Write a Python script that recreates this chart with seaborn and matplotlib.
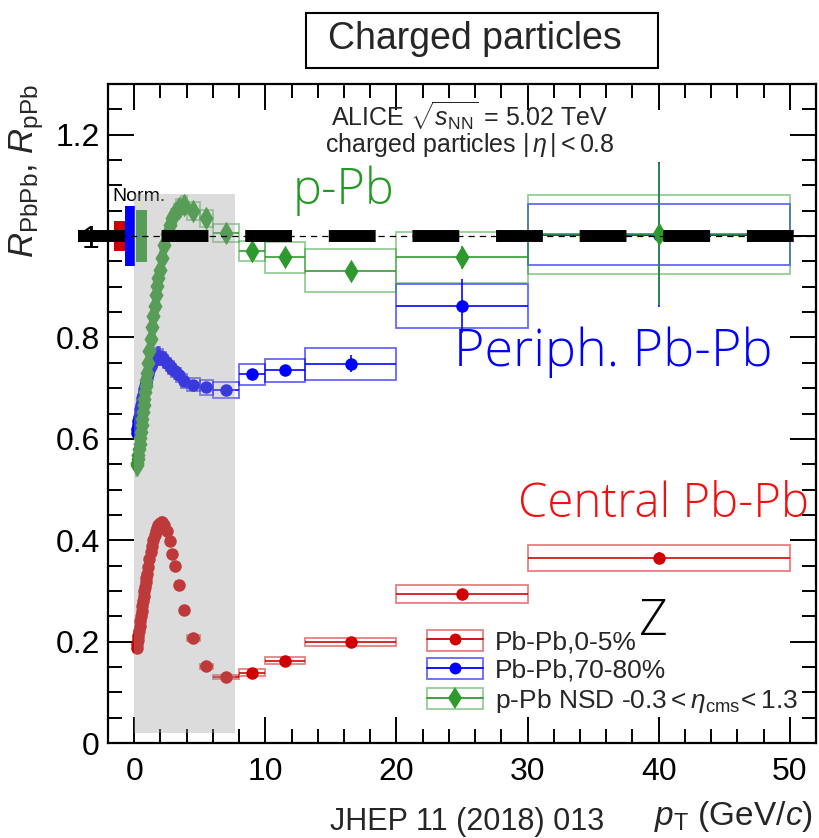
import numpy as np
import pandas as pd
import matplotlib
matplotlib.use("Agg")
import matplotlib.pyplot as plt
import seaborn as sns
from matplotlib import font_manager
from matplotlib.patches import Rectangle
from matplotlib.lines import Line2D
from matplotlib.ticker import MultipleLocator, FuncFormatter
from matplotlib.legend_handler import HandlerTuple

# ---------------- data ----------------
pt_edges = [0.15, 0.20, 0.25, 0.30, 0.35, 0.40, 0.45, 0.50, 0.55, 0.60, 0.65, 0.70, 0.75, 0.80, 0.85, 0.90, 0.95, 1.00,
            1.1, 1.2, 1.3, 1.4, 1.5, 1.6, 1.7, 1.8, 1.9, 2.0,
            2.2, 2.4, 2.6, 2.8, 3.0, 3.2, 3.6, 4.0, 5.0, 6.0, 8.0, 10.0, 13.0, 20.0, 30.0, 50.0]

raa_central = [0.188, 0.196, 0.204, 0.212, 0.221, 0.230, 0.240, 0.250, 0.260, 0.270, 0.280, 0.290, 0.299, 0.308, 0.317, 0.326, 0.334,
               0.347, 0.362, 0.376, 0.389, 0.400, 0.410, 0.418, 0.425, 0.430, 0.434,
               0.436, 0.430, 0.418, 0.398, 0.372,
               0.350, 0.312, 0.262, 0.207, 0.151, 0.131, 0.139, 0.162, 0.200, 0.294, 0.365]
sys_central = [0.006, 0.006, 0.006, 0.006, 0.006, 0.006, 0.006, 0.006, 0.006, 0.006, 0.006, 0.006, 0.006, 0.006, 0.006, 0.006, 0.006,
               0.008, 0.008, 0.008, 0.008, 0.008, 0.008, 0.008, 0.008, 0.008, 0.008,
               0.009, 0.009, 0.009, 0.009, 0.009,
               0.008, 0.008, 0.007, 0.006, 0.005, 0.004, 0.006, 0.007, 0.008, 0.017, 0.026]
stat_central = [0.0, 0.0, 0.0, 0.0, 0.0, 0.0, 0.0, 0.0, 0.0, 0.0, 0.0, 0.0, 0.0, 0.0, 0.0, 0.0, 0.0,
                0.0, 0.0, 0.0, 0.0, 0.0, 0.0, 0.0, 0.0, 0.0, 0.0,
                0.0, 0.0, 0.0, 0.0, 0.0,
                0.0, 0.0, 0.001, 0.001, 0.001, 0.001, 0.002, 0.003, 0.004, 0.008, 0.012]

raa_periph = [0.611, 0.619, 0.627, 0.635, 0.643, 0.651, 0.659, 0.666, 0.673, 0.680, 0.687, 0.693, 0.699, 0.705, 0.710, 0.715, 0.720,
              0.728, 0.736, 0.743, 0.749, 0.754, 0.758, 0.761, 0.763, 0.764, 0.763,
              0.761, 0.756, 0.750, 0.744, 0.738,
              0.733, 0.726, 0.714, 0.707, 0.702, 0.697, 0.727, 0.735, 0.748, 0.862, 1.003]
sys_periph = [0.020, 0.020, 0.020, 0.020, 0.020, 0.020, 0.020, 0.020, 0.020, 0.020, 0.020, 0.020, 0.020, 0.020, 0.020, 0.020, 0.020,
              0.018, 0.018, 0.018, 0.018, 0.018, 0.018, 0.018, 0.018, 0.018, 0.018,
              0.016, 0.016, 0.016, 0.016, 0.016,
              0.015, 0.014, 0.014, 0.013, 0.015, 0.016, 0.020, 0.022, 0.031, 0.044, 0.060]
stat_periph = [0.0, 0.0, 0.0, 0.0, 0.0, 0.0, 0.0, 0.0, 0.0, 0.0, 0.0, 0.0, 0.0, 0.0, 0.0, 0.0, 0.0,
               0.0, 0.0, 0.0, 0.0, 0.0, 0.0, 0.0, 0.0, 0.0, 0.0,
               0.0, 0.0, 0.0, 0.0, 0.001,
               0.001, 0.001, 0.002, 0.002, 0.003, 0.004, 0.006, 0.009, 0.017, 0.054, 0.143]

rppb = [0.548, 0.553, 0.560, 0.569, 0.579, 0.590, 0.602, 0.614, 0.627, 0.640, 0.653, 0.666, 0.679, 0.692, 0.705, 0.717, 0.729,
        0.749, 0.773, 0.797, 0.820, 0.842, 0.863, 0.883, 0.901, 0.918, 0.934,
        0.956, 0.983, 1.004, 1.021, 1.035,
        1.045, 1.055, 1.062, 1.050, 1.035, 1.006, 0.971, 0.958, 0.932, 0.958, 1.004]
sys_ppb = [0.022, 0.022, 0.022, 0.022, 0.022, 0.022, 0.022, 0.022, 0.022, 0.022, 0.022, 0.022, 0.022, 0.022, 0.022, 0.022, 0.022,
           0.020, 0.020, 0.020, 0.020, 0.020, 0.020, 0.020, 0.020, 0.020, 0.020,
           0.018, 0.018, 0.018, 0.018, 0.018,
           0.018, 0.018, 0.018, 0.018, 0.017, 0.017, 0.020, 0.031, 0.042, 0.051, 0.078]
stat_ppb = [0.0, 0.0, 0.0, 0.0, 0.0, 0.0, 0.0, 0.0, 0.0, 0.0, 0.0, 0.0, 0.0, 0.0, 0.0, 0.0, 0.0,
            0.0, 0.0, 0.0, 0.0, 0.0, 0.0, 0.0, 0.0, 0.0, 0.0,
            0.0, 0.0, 0.0, 0.0, 0.001,
            0.001, 0.001, 0.002, 0.002, 0.003, 0.004, 0.005, 0.008, 0.010, 0.022, 0.140]

series_names = ["Pb-Pb,0-5%", "Pb-Pb,70-80%", "p-Pb NSD -0.3$<\\eta_{\\rm cms}\\!<$1.3"]
norm_unc = [0.029, 0.060, 0.052]
norm_x = [-1.52, -0.68, 0.15]
norm_w = [0.84, 0.76, 0.80]
band_range = [0.0, 7.7, 0.02, 1.083]

# ---------------- style ----------------
sns.set_style("ticks")
plt.rcParams["font.family"] = ["Liberation Sans", "DejaVu Sans"]
plt.rcParams["mathtext.fontset"] = "custom"
plt.rcParams["mathtext.rm"] = "Liberation Sans"
plt.rcParams["mathtext.it"] = "Liberation Sans:italic"
plt.rcParams["mathtext.bf"] = "Liberation Sans:bold"

names = {f.name for f in font_manager.fontManager.ttflist}
narrow = "Liberation Sans Narrow" if "Liberation Sans Narrow" in names else "Liberation Sans"
light_family = "Liberation Sans"
for cand in ["Open Sans", "Roboto", "Lato", "Inter"]:
    if any(f.name == cand and f.weight in (300, "light") for f in font_manager.fontManager.ttflist):
        light_family = cand
        break

RED = "#d00000"
BLUE = "#0000ff"
GREEN = "#2e9a2e"
colors = [RED, BLUE, GREEN]
markers = ["o", "o", "d"]
msizes = [9.0, 9.0, 12.0]
box_alpha = [0.5, 0.6, 0.5]

fig = plt.figure(figsize=(8.2, 8.38), dpi=100)
ax = fig.add_axes([108 / 820, 1 - 743 / 838, 708 / 820, 659 / 838])

edges = np.array(pt_edges)
lo, hi = edges[:-1], edges[1:]
centers = 0.5 * (lo + hi)

all_vals = [raa_central, raa_periph, rppb]
all_sys = [sys_central, sys_periph, sys_ppb]
all_stat = [stat_central, stat_periph, stat_ppb]

rows = []
for name, vals in zip(series_names, all_vals):
    for x, y in zip(centers, vals):
        rows.append({"pT": x, "R": y, "series": name})
df = pd.DataFrame(rows)

for k in range(3):
    y = np.array(all_vals[k]); s = np.array(all_sys[k]); st = np.array(all_stat[k])
    ax.bar(centers, 2 * s, width=hi - lo, bottom=y - s, fill=False,
           edgecolor=colors[k], alpha=box_alpha[k], linewidth=1.3, zorder=2)
    ax.hlines(y, lo, hi, color=colors[k], linewidth=1.3, alpha=0.9, zorder=3)
    ax.vlines(centers, y - st, y + st, color=colors[k], linewidth=1.3, alpha=0.9, zorder=3)
    sub = df[df["series"] == series_names[k]]
    sns.scatterplot(data=sub, x="pT", y="R", ax=ax, color=colors[k], marker=markers[k],
                    s=msizes[k] ** 2, linewidth=0, zorder=4, legend=False)

# normalisation boxes
for k in range(3):
    ax.add_patch(Rectangle((norm_x[k], 1 - norm_unc[k]), norm_w[k], 2 * norm_unc[k],
                           facecolor=colors[k], edgecolor="none", zorder=4, clip_on=False))
ax.text(-1.65, 1.078, "Norm.", fontsize=14, color="black", ha="left", va="center", zorder=4)

# grey band over the low-pT region
ax.fill_between([band_range[0], band_range[1]], band_range[2], band_range[3],
                color="#a0a0a0", alpha=0.37, linewidth=0, zorder=5)

# unity lines
ax.plot([-2, 52], [1, 1], color="black", linewidth=0.9, linestyle=(0, (5, 4)), zorder=6)
ax.plot([-4.26, 50.45], [1, 1], color="black", linewidth=8.6, linestyle=(0, (3.92, 3.08)),
        solid_capstyle="butt", dash_capstyle="butt", zorder=7, clip_on=False)

# axes
ax.set_xlim(-2, 52)
ax.set_ylim(0, 1.3)
ax.xaxis.set_major_locator(MultipleLocator(10))
ax.xaxis.set_minor_locator(MultipleLocator(2))
ax.yaxis.set_major_locator(MultipleLocator(0.2))
ax.yaxis.set_minor_locator(MultipleLocator(0.05))
ax.yaxis.set_major_formatter(FuncFormatter(lambda v, p: "0" if abs(v) < 1e-9 else ("1" if abs(v - 1) < 1e-9 else f"{v:.1f}")))
ax.tick_params(which="both", direction="in", top=True, right=True, labelsize=23, width=1.4, colors="black")
ax.tick_params(which="major", length=19)
ax.tick_params(which="minor", length=10)
ax.tick_params(axis="x", pad=10)
ax.tick_params(axis="y", pad=6)
for sp in ax.spines.values():
    sp.set_linewidth(1.6)
    sp.set_color("black")

ax.set_ylabel(r"$R_{\rm PbPb}$, $R_{\rm pPb}$", fontsize=25, loc="top")
ax.yaxis.set_label_coords(-0.088, 1.0)
ax.set_xlabel(r"$p_{\rm T}$ (GeV/$c$)", fontsize=24, loc="right")
ax.xaxis.set_label_coords(0.995, -0.085)

# annotations
ax.text(25.6, 1.235, r"ALICE $\sqrt{s_{\rm NN}}$ = 5.02 TeV", fontsize=18, ha="center", va="center", zorder=8)
ax.text(25.6, 1.180, r"charged particles $|\,\eta\,|<0.8$", fontsize=18, ha="center", va="center", zorder=8)

bigfont = dict(fontweight="light", family=[light_family, "Liberation Sans", "DejaVu Sans"], zorder=8)
ax.text(16.0, 1.09, "p-Pb", color="#229922", ha="center", va="center", fontsize=35, **bigfont)
ax.text(36.5, 0.77, "Periph. Pb-Pb", color=BLUE, ha="center", va="center", fontsize=37.5, **bigfont)
ax.text(40.4, 0.47, "Central Pb-Pb", color="#f01010", ha="center", va="center", fontsize=34, **bigfont)
ax.text(39.6, 0.238, "Z", color="black", ha="center", va="center", fontsize=36, **bigfont)

# legend
handles = []
for k in range(3):
    box = Rectangle((0, 0), 1, 1, fill=False, edgecolor=colors[k], alpha=box_alpha[k], linewidth=1.3)
    ln = Line2D([0], [0], color=colors[k], linewidth=1.3, marker=markers[k], markersize=msizes[k] * 0.95,
                markeredgewidth=0)
    handles.append((box, ln))
leg = ax.legend(handles, series_names, handler_map={tuple: HandlerTuple(ndivide=1)},
                loc="upper left", bbox_to_anchor=(0.451, 0.172), frameon=False, fontsize=19,
                handlelength=2.1, handleheight=0.85, handletextpad=0.45, labelspacing=0.15,
                borderpad=0, borderaxespad=0)

# title box and reference
fig.patches.append(Rectangle((306 / 820, 1 - 68 / 838), 352 / 820, 55 / 838, transform=fig.transFigure,
                             fill=False, edgecolor="black", linewidth=1.5))
fig.text(475 / 820, 1 - 39 / 838, "Charged particles", fontsize=27, ha="center", va="center")
fig.text(467 / 820, 1 - 822 / 838, "JHEP 11 (2018) 013", fontsize=26 if narrow != "Liberation Sans" else 22,
         ha="center", va="center", family=[narrow, "Liberation Sans"])

fig.savefig("out.png", dpi=100)
